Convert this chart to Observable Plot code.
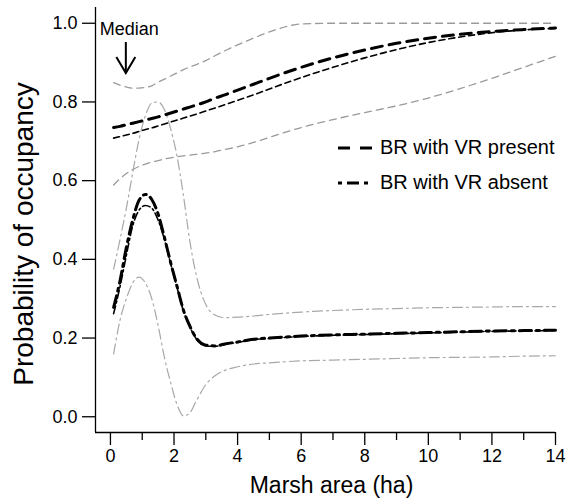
<!DOCTYPE html>
<html>
<head>
<meta charset="utf-8">
<script src="https://cdn.jsdelivr.net/npm/d3@7"></script>
<script src="https://cdn.jsdelivr.net/npm/@observablehq/plot@0.6"></script>
<style>
  body { margin: 0; background: #fff; }
  #wrap { position: relative; width: 568px; height: 498px; }
  #wrap svg { font-family: "Liberation Sans", Arial, sans-serif; }
  #overlay { position: absolute; left: 0; top: 0; pointer-events: none; }
</style>
</head>
<body>
<div id="wrap"></div>
<script>
// ---- data ----
const xGrid = [0.1, 0.3, 0.5, 0.7, 0.9, 1.1, 1.3, 1.5, 1.7, 1.9, 2.1, 2.3, 2.5, 2.7, 3.0, 3.3, 3.6, 4, 4.5, 5, 6, 7, 8, 9, 10, 11, 12, 13, 14];

const presentBR    = [0.735, 0.738, 0.742, 0.746, 0.750, 0.754, 0.758, 0.762, 0.767, 0.772, 0.777, 0.782, 0.787, 0.792, 0.800, 0.810, 0.818, 0.830, 0.845, 0.860, 0.888, 0.912, 0.932, 0.949, 0.962, 0.972, 0.979, 0.984, 0.988];
const presentBRalt = [0.708, 0.712, 0.716, 0.720, 0.725, 0.730, 0.734, 0.739, 0.744, 0.749, 0.754, 0.759, 0.764, 0.769, 0.777, 0.785, 0.793, 0.804, 0.818, 0.833, 0.862, 0.888, 0.912, 0.933, 0.951, 0.965, 0.976, 0.983, 0.987];
const presentUpper = [0.849, 0.843, 0.838, 0.835, 0.835, 0.837, 0.841, 0.850, 0.858, 0.866, 0.874, 0.882, 0.889, 0.895, 0.905, 0.918, 0.930, 0.945, 0.962, 0.978, 0.998, 1.0, 1.0, 1.0, 1.0, 1.0, 1.0, 1.0, 1.0];
const presentLower = [0.589, 0.605, 0.618, 0.628, 0.636, 0.642, 0.647, 0.651, 0.655, 0.658, 0.661, 0.663, 0.665, 0.667, 0.670, 0.674, 0.679, 0.686, 0.697, 0.710, 0.735, 0.755, 0.773, 0.790, 0.810, 0.834, 0.860, 0.888, 0.916];

const absentBR     = [0.278, 0.345, 0.430, 0.500, 0.550, 0.565, 0.552, 0.515, 0.455, 0.390, 0.330, 0.270, 0.230, 0.200, 0.182, 0.180, 0.185, 0.190, 0.197, 0.200, 0.205, 0.208, 0.210, 0.212, 0.214, 0.216, 0.218, 0.219, 0.220];
const absentBRalt  = [0.262, 0.330, 0.410, 0.485, 0.525, 0.537, 0.530, 0.500, 0.450, 0.387, 0.327, 0.268, 0.228, 0.198, 0.180, 0.179, 0.184, 0.189, 0.196, 0.199, 0.204, 0.207, 0.209, 0.211, 0.213, 0.215, 0.217, 0.218, 0.219];
const absentUpper  = [0.375, 0.450, 0.530, 0.620, 0.705, 0.765, 0.797, 0.800, 0.780, 0.730, 0.660, 0.560, 0.445, 0.360, 0.285, 0.258, 0.252, 0.253, 0.256, 0.260, 0.266, 0.270, 0.273, 0.275, 0.277, 0.278, 0.279, 0.280, 0.280];
const absentLower  = [0.160, 0.245, 0.300, 0.340, 0.355, 0.340, 0.300, 0.232, 0.150, 0.085, 0.030, 0.002, 0.010, 0.040, 0.082, 0.105, 0.118, 0.127, 0.134, 0.137, 0.142, 0.144, 0.146, 0.148, 0.150, 0.151, 0.152, 0.154, 0.155];

const medianArea = [0.5];
const xTicks = [0, 2, 4, 6, 8, 10, 12, 14];
const xMinorTicks = [1, 3, 5, 7, 9, 11, 13];
const yTicks = [0, 0.2, 0.4, 0.6, 0.8, 1.0];
const xDomain = [-0.47, 14];
const yDomain = [-0.04, 1.04];
const legendLabels = ["BR with VR present", "BR with VR absent"];
const xTitle = "Marsh area (ha)";
const yTitle = "Probability of occupancy";

// ---- build table ----
const series = [
  {key: "presentUpper", values: presentUpper},
  {key: "presentLower", values: presentLower},
  {key: "absentUpper", values: absentUpper},
  {key: "absentLower", values: absentLower},
  {key: "presentBRalt", values: presentBRalt},
  {key: "absentBRalt", values: absentBRalt},
  {key: "presentBR", values: presentBR},
  {key: "absentBR", values: absentBR}
];
const styles = {
  presentUpper: {stroke: "#9a9a9a", strokeWidth: 1.3, strokeDasharray: "7,5"},
  presentLower: {stroke: "#9a9a9a", strokeWidth: 1.3, strokeDasharray: "7,5"},
  absentUpper:  {stroke: "#a8a8a8", strokeWidth: 1.2, strokeDasharray: "10,4,2,4"},
  absentLower:  {stroke: "#a8a8a8", strokeWidth: 1.2, strokeDasharray: "10,4,2,4"},
  presentBRalt: {stroke: "#000", strokeWidth: 1.6, strokeDasharray: "6,4"},
  absentBRalt:  {stroke: "#000", strokeWidth: 1.6, strokeDasharray: "8,3,2,3"},
  presentBR:    {stroke: "#000", strokeWidth: 3, strokeDasharray: "11,7"},
  absentBR:     {stroke: "#000", strokeWidth: 3, strokeDasharray: "12,5,3,5"}
};

const lineMarks = series.map(s => {
  const rows = xGrid.map((x, i) => ({x, y: s.values[i]}));
  return Plot.line(rows, {x: "x", y: "y", curve: "monotone-x", ...styles[s.key]});
});

const plot = Plot.plot({
  width: 568,
  height: 498,
  marginLeft: 95,
  marginRight: 13,
  marginTop: 7,
  marginBottom: 66,
  style: {fontFamily: "'Liberation Sans', Arial, sans-serif", background: "#fff", color: "#000"},
  x: {domain: xDomain},
  y: {domain: yDomain},
  marks: [
    ...lineMarks,
    Plot.ruleY([yDomain[0]], {stroke: "#000", strokeWidth: 1.3}),
    Plot.ruleX([xDomain[0]], {stroke: "#000", strokeWidth: 1.3}),
    Plot.axisX({ticks: xTicks, tickSize: 13, tickPadding: 4, fontSize: 18, strokeWidth: 1.3, label: null, tickFormat: d3.format("d")}),
    Plot.axisX({ticks: xMinorTicks, tickSize: 8, strokeWidth: 1.3, label: null, tickFormat: () => ""}),
    Plot.axisY({ticks: yTicks, tickSize: 13, tickPadding: 5, fontSize: 18, strokeWidth: 1.3, label: null, tickFormat: d3.format(".1f")}),
    Plot.text([xTitle], {frameAnchor: "bottom", textAnchor: "middle", lineAnchor: "middle", dy: 53, dx: 6, fontSize: 23, fill: "#000"}),
    Plot.text([yTitle], {frameAnchor: "left", textAnchor: "middle", lineAnchor: "middle", rotate: -90, dx: -71, dy: 14, fontSize: 28, fill: "#000"}),
    Plot.text(medianArea, {x: d => d, y: 0.984, text: () => "Median", dx: 3, fontSize: 18, fill: "#000"})
  ]
});

const wrap = document.getElementById("wrap");
wrap.appendChild(plot);

// ---- overlay: median arrow (positioned via the plot's scales) and legend ----
const sx = plot.scale("x"), sy = plot.scale("y");
const ov = d3.select(wrap).append("svg")
  .attr("id", "overlay").attr("width", 568).attr("height", 498);
const ax = sx.apply(medianArea[0]);
const ay1 = sy.apply(0.951), ay2 = sy.apply(0.872);
ov.append("line").attr("x1", ax).attr("x2", ax).attr("y1", ay1).attr("y2", ay2)
  .attr("stroke", "#000").attr("stroke-width", 2);
ov.append("path").attr("d", `M${ax - 9.5},${ay2 - 16}L${ax},${ay2}L${ax + 9.5},${ay2 - 16}`)
  .attr("fill", "none").attr("stroke", "#000").attr("stroke-width", 2);

const legendItems = [
  {label: legendLabels[0], style: {width: 3, dash: "12,10"}, x1: 338, x2: 372, y: 148, ty: 154},
  {label: legendLabels[1], style: {width: 3, dash: "4,5,12,5"}, x1: 338, x2: 368, y: 183, ty: 189}
];
for (const it of legendItems) {
  ov.append("line").attr("x1", it.x1).attr("x2", it.x2).attr("y1", it.y).attr("y2", it.y)
    .attr("stroke", "#000").attr("stroke-width", it.style.width).attr("stroke-dasharray", it.style.dash);
  ov.append("text").attr("x", 380).attr("y", it.ty).attr("font-size", 20)
    .attr("font-family", "'Liberation Sans', Arial, sans-serif").attr("fill", "#000").text(it.label);
}
</script>
</body>
</html>
